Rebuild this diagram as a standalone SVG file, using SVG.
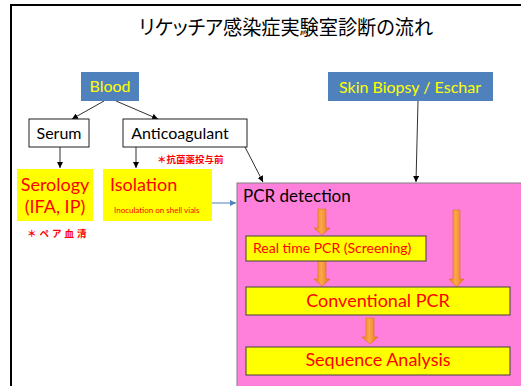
<svg xmlns="http://www.w3.org/2000/svg" width="521" height="386" viewBox="0 0 521 386">
<defs>
<style>
.t{font-family:Lato,"Noto Sans","Liberation Sans",sans-serif;}
.jp{font-family:"Noto Sans CJK JP","Noto Sans CJK SC",sans-serif;}
.blue{fill:#4F81BD;}
.yel{fill:#FFFF00;}
.ybox{fill:#FFFF00;stroke:#404040;stroke-width:1;}
.wbox{fill:#FFFFFF;stroke:#202020;stroke-width:1;}
.conn{stroke:#303030;stroke-width:1;fill:none;marker-end:url(#ah);}
.bt{fill:#FFFF00;font-size:16px;}
.rt{fill:#FF0000;}
.oa{fill:url(#og);stroke:#D7731A;stroke-width:0.6;}
</style>
<marker id="ah" viewBox="0 0 10 10" refX="10" refY="5" markerWidth="6" markerHeight="6" orient="auto" markerUnits="userSpaceOnUse">
<path d="M0,0 L10,5 L0,10 z" fill="#000"/>
</marker>
<marker id="ahb" viewBox="0 0 10 10" refX="10" refY="5" markerWidth="6" markerHeight="6" orient="auto" markerUnits="userSpaceOnUse">
<path d="M0,0 L10,5 L0,10 z" fill="#4F81BD"/>
</marker>
<linearGradient id="og" x1="0" y1="0" x2="1" y2="0">
<stop offset="0" stop-color="#E8801E"/>
<stop offset="0.45" stop-color="#FBA74A"/>
<stop offset="1" stop-color="#E2781A"/>
</linearGradient>
</defs>
<rect x="0" y="0" width="521" height="386" fill="#FFFFFF"/>
<rect x="11" y="5" width="620" height="500" fill="none" stroke="#000" stroke-width="2"/>
<text class="jp" x="139" y="35" font-size="20" textLength="294" lengthAdjust="spacingAndGlyphs" fill="#000" style="font-feature-settings:'palt'">リケッチア感染症実験室診断の流れ</text>

<g id="pcr">
<rect x="237" y="183" width="300" height="220" fill="#FF80DA" stroke="#808080" stroke-width="1"/>
<text class="t" x="243" y="202" font-size="17" fill="#000">PCR detection</text>
</g>

<g id="connectors">
<line class="conn" x1="104" y1="101" x2="72" y2="119"/>
<line class="conn" x1="116" y1="101" x2="158" y2="119"/>
<line class="conn" x1="60" y1="147" x2="60" y2="168"/>
<line class="conn" x1="136" y1="147" x2="136" y2="168"/>
<line class="conn" x1="245" y1="147" x2="263" y2="182"/>
<line class="conn" x1="418" y1="101" x2="416" y2="182"/>
<line x1="212" y1="203" x2="236" y2="203" stroke="#4F81BD" stroke-width="1" marker-end="url(#ahb)"/>
<path class="oa" d="M318,209 h8 v19 h4 l-8,7 l-8,-7 h4 z"/>
<path class="oa" d="M318,261 h8 v18 h4 l-8,7 l-8,-7 h4 z"/>
<path class="oa" d="M453,210 h7 v69 h4 l-7.5,8 l-7.5,-8 h4 z"/>
<path class="oa" d="M366,318 h8 v19 h4 l-8,7 l-8,-7 h4 z"/>
</g>

<g id="blood">
<rect class="blue" x="81" y="72" width="58" height="29"/>
<text class="t bt" x="110" y="92" text-anchor="middle">Blood</text>
</g>
<g id="skin">
<rect class="blue" x="328" y="72" width="165" height="29"/>
<text class="t bt" x="410" y="93" text-anchor="middle">Skin Biopsy / Eschar</text>
</g>
<g id="serum">
<rect class="wbox" x="29" y="119" width="60" height="28"/>
<text class="t" x="59" y="139" font-size="16" text-anchor="middle" fill="#000">Serum</text>
</g>
<g id="anticoagulant">
<rect class="wbox" x="123" y="119" width="124" height="28"/>
<text class="t" x="180" y="139" font-size="16" text-anchor="middle" fill="#000">Anticoagulant</text>
</g>
<text class="jp rt" x="157" y="163" font-size="9.5" font-weight="bold">＊抗菌薬投与前</text>
<g id="serology">
<rect class="yel" x="17" y="169" width="76" height="52"/>
<text class="t rt" x="55" y="191" font-size="18" text-anchor="middle">Serology</text>
<text class="t rt" x="55" y="213" font-size="18" text-anchor="middle">(IFA, IP)</text>
</g>
<text class="jp rt" x="27" y="237" font-size="9.5" font-weight="bold" letter-spacing="3">＊ペア血清</text>
<g id="isolation">
<rect class="yel" x="103" y="169" width="109" height="52"/>
<text class="t rt" x="110" y="191" font-size="18">Isolation</text>
<text class="t rt" x="114" y="213" font-size="8">Inoculation on shell vials</text>
</g>
<g id="realtime">
<rect class="ybox" x="246" y="236" width="180" height="25"/>
<text class="t rt" x="253" y="253" font-size="14">Real time PCR (Screening)</text>
</g>
<g id="conventional">
<rect class="ybox" x="246" y="287" width="264" height="28"/>
<text class="t rt" x="378" y="307" font-size="18" text-anchor="middle">Conventional PCR</text>
</g>
<g id="sequence">
<rect class="ybox" x="246" y="347" width="264" height="28"/>
<text class="t rt" x="378" y="366" font-size="18" text-anchor="middle">Sequence Analysis</text>
</g>
</svg>
